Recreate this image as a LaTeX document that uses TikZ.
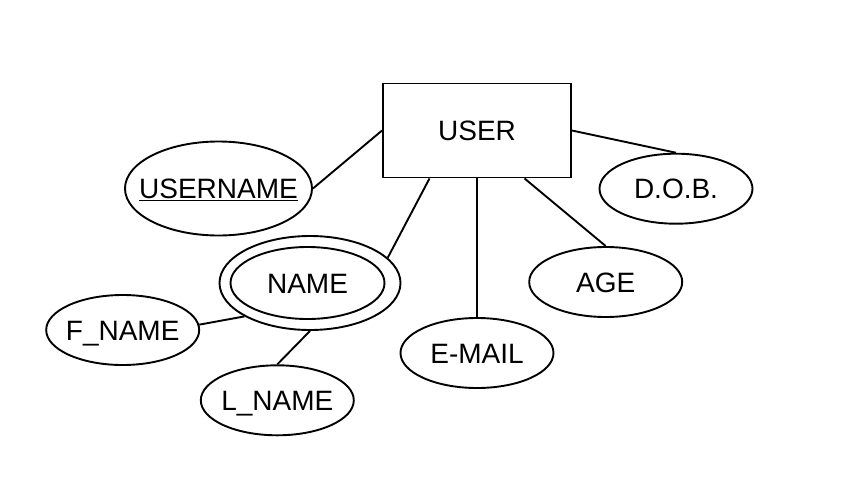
\documentclass[tikz,border=0pt]{standalone}
\usepackage{fontspec}
\setmainfont{Liberation Sans}
\usetikzlibrary{shapes.geometric}
\begin{document}
\begin{tikzpicture}[x=1pt,y=-1pt,line width=1.9pt,
  lbl/.style={inner sep=0pt,font=\fontsize{28}{32}\selectfont,text height=20pt,text depth=0pt},
  entity/.style={lbl,draw,rectangle,minimum width=188pt,minimum height=94pt},
  attr/.style={lbl,draw,ellipse,minimum width=153pt,minimum height=70pt}]
\useasboundingbox (0,0) rectangle (842,479);

% entity
\node[entity] (user) at (477,130.5) {\makebox[0pt]{USER}};

% attributes
\node[attr,minimum width=187pt,minimum height=94pt] (username) at (218.5,188.5) {\makebox[0pt]{\underline{USERNAME}}};
\node[attr,minimum width=181pt,minimum height=94pt] (name) at (310,283) {};
\node[attr,minimum width=154pt,minimum height=72pt] (namein) at (307.5,283) {\makebox[0pt]{NAME}};
\node[attr] (fname) at (122.7,330) {\makebox[0pt]{F\_NAME}};
\node[attr] (lname) at (277.3,400.3) {\makebox[0pt]{L\_NAME}};
\node[attr] (email) at (477,353) {\makebox[0pt]{E-MAIL}};
\node[attr] (age) at (605.7,282) {\makebox[0pt]{AGE}};
\node[attr] (dob) at (676,188.7) {\makebox[0pt]{D.O.B.}};

% connectors
\draw (user.west) -- (username.east);
\draw ([xshift=-47.5pt]user.south) -- (name.18);
\draw (user.south) -- (email.north);
\draw ([xshift=47.5pt]user.south) -- (age.north);
\draw (user.east) -- (dob.north);
\draw (name.207) -- (fname.4);
\draw (name.south) -- (lname.north);
\end{tikzpicture}
\end{document}
